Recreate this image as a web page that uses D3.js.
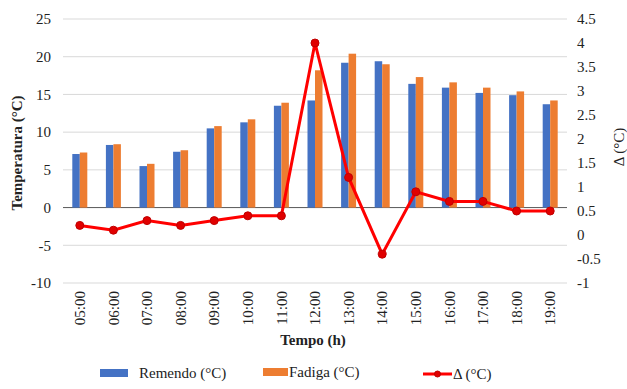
<!DOCTYPE html>
<meta charset="utf-8">
<script src="https://cdn.jsdelivr.net/npm/d3@7"></script>
<style>
body { margin: 0; background: #fff; }
.grid line { stroke: #d9d9d9; stroke-width: 1px; }
</style>
<body>
<script>

var hours = ["05:00","06:00","07:00","08:00","09:00","10:00","11:00","12:00","13:00","14:00","15:00","16:00","17:00","18:00","19:00"];
var remendo = [7.1, 8.3, 5.5, 7.4, 10.5, 11.3, 13.5, 14.2, 19.2, 19.4, 16.4, 15.9, 15.2, 14.9, 13.7];
var fadiga  = [7.3, 8.4, 5.8, 7.6, 10.8, 11.7, 13.9, 18.2, 20.4, 19.0, 17.3, 16.6, 15.9, 15.4, 14.2];
var delta   = [0.2, 0.1, 0.3, 0.2, 0.3, 0.4, 0.4, 4.0, 1.2, -0.4, 0.9, 0.7, 0.7, 0.5, 0.5];
var leftTicks = [-10, -5, 0, 5, 10, 15, 20, 25];
var rightTicks = [-1, -0.5, 0, 0.5, 1, 1.5, 2, 2.5, 3, 3.5, 4, 4.5];

var width = 627, height = 389;
var plotLeft = 63, plotRight = 567, plotTop = 19, plotBottom = 283;

var svg = d3.select("body").append("svg")
    .attr("width", width)
    .attr("height", height);

var x = d3.scaleBand().domain(hours).range([plotLeft, plotRight]);
var y = d3.scaleLinear().domain([-10, 25]).range([plotBottom, plotTop]);
var y2 = d3.scaleLinear().domain([-1, 4.5]).range([plotBottom, plotTop]);

// gridlines
svg.append("g")
    .attr("class", "grid")
    .selectAll("line")
    .data(leftTicks)
    .enter()
    .append("line")
    .attr("x1", plotLeft)
    .attr("x2", plotRight)
    .attr("y1", function(d) { return y(d); })
    .attr("y2", function(d) { return y(d); })
    .style("stroke", function(d) { return d == 0 ? "#595959" : null; });

// left axis labels
svg.append("g")
    .selectAll("text")
    .data(leftTicks)
    .enter()
    .append("text")
    .attr("x", 51)
    .attr("y", function(d) { return y(d); })
    .attr("dy", "0.35em")
    .attr("text-anchor", "end")
    .text(function(d) { return d; });

// right axis labels
svg.append("g")
    .selectAll("text")
    .data(rightTicks)
    .enter()
    .append("text")
    .attr("x", 577)
    .attr("y", function(d) { return y2(d); })
    .attr("dy", "0.35em")
    .attr("text-anchor", "start")
    .text(function(d) { return d; });

// bars
var bw = 7.5;
var bars = svg.append("g");
bars.selectAll("rect.r")
    .data(remendo)
    .enter()
    .append("rect")
    .attr("class", "r")
    .attr("x", function(d, i) { return x(hours[i]) + x.bandwidth() / 2 - bw; })
    .attr("width", bw)
    .attr("y", function(d) { return y(d); })
    .attr("height", function(d) { return y(0) - y(d); })
    .style("fill", "#4472C4");

bars.selectAll("rect.f")
    .data(fadiga)
    .enter()
    .append("rect")
    .attr("class", "f")
    .attr("x", function(d, i) { return x(hours[i]) + x.bandwidth() / 2; })
    .attr("width", bw)
    .attr("y", function(d) { return y(d); })
    .attr("height", function(d) { return y(0) - y(d); })
    .style("fill", "#ED7D31");

// delta line
var line = d3.line()
    .x(function(d, i) { return x(hours[i]) + x.bandwidth() / 2; })
    .y(function(d) { return y2(d); });

svg.append("path")
    .datum(delta)
    .attr("d", line)
    .style("fill", "none")
    .style("stroke", "#FF0000")
    .style("stroke-width", 3);

svg.append("g")
    .selectAll("circle")
    .data(delta)
    .enter()
    .append("circle")
    .attr("cx", function(d, i) { return x(hours[i]) + x.bandwidth() / 2; })
    .attr("cy", function(d) { return y2(d); })
    .attr("r", 4)
    .style("fill", "#E00000")
    .style("stroke", "#C00000")
    .style("stroke-width", 1);

// x labels
svg.append("g")
    .selectAll("text")
    .data(hours)
    .enter()
    .append("text")
    .attr("transform", function(d) {
      return "translate(" + (x(d) + x.bandwidth() / 2) + ",291) rotate(-90)";
    })
    .attr("dy", "0.35em")
    .attr("text-anchor", "end")
    .text(function(d) { return d; });

// axis titles
svg.append("text")
    .attr("transform", "translate(17,153) rotate(-90)")
    .attr("dy", "0.35em")
    .attr("text-anchor", "middle")
    .style("font-weight", "bold")
    .text("Temperatura (°C)");

svg.append("text")
    .attr("transform", "translate(619,147) rotate(-90)")
    .attr("dy", "0.35em")
    .attr("text-anchor", "middle")
    .text("Δ (°C)");

svg.append("text")
    .attr("x", 313)
    .attr("y", 345)
    .attr("text-anchor", "middle")
    .style("font-weight", "bold")
    .text("Tempo (h)");

// legend
var lg = svg.append("g");
lg.append("rect").attr("x", 100).attr("y", 369).attr("width", 28).attr("height", 8).style("fill", "#4472C4");
lg.append("text").attr("x", 139).attr("y", 373).attr("dy", "0.35em").text("Remendo (°C)");
lg.append("rect").attr("x", 263).attr("y", 368).attr("width", 25).attr("height", 8).style("fill", "#ED7D31");
lg.append("text").attr("x", 289).attr("y", 372).attr("dy", "0.35em").text("Fadiga (°C)");
lg.append("line").attr("x1", 423).attr("x2", 452).attr("y1", 374).attr("y2", 374).style("stroke", "#FF0000").style("stroke-width", 3);
lg.append("circle").attr("cx", 437.5).attr("cy", 374).attr("r", 3).style("fill", "#E00000").style("stroke", "#C00000");
lg.append("text").attr("x", 453).attr("y", 374).attr("dy", "0.35em").text("Δ (°C)");

// same serif font on every text
svg.selectAll("text")
    .style("font-family", "'Liberation Serif'")
    .style("font-size", "15px")
    .style("fill", "#222");

</script>
</body>
